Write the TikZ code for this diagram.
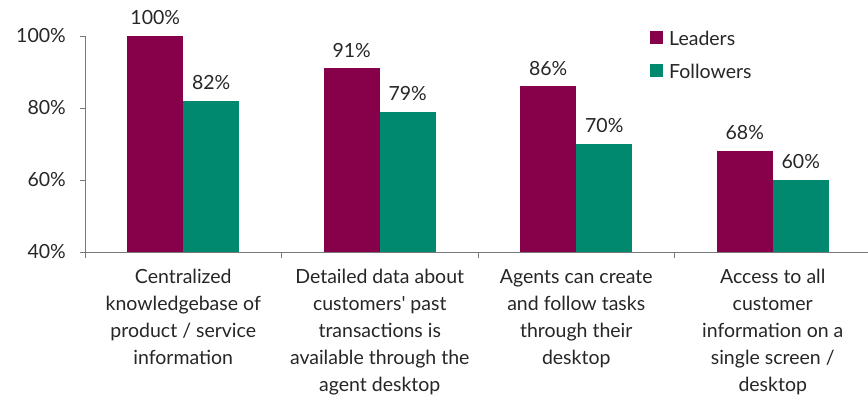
\documentclass[tikz,border=0pt]{standalone}
\usepackage{fontspec}
\setmainfont{Lato}
\definecolor{lead}{RGB}{134,0,74}
\definecolor{foll}{RGB}{0,137,111}
\definecolor{axisc}{RGB}{120,120,120}
\begin{document}
\begin{tikzpicture}[x=1pt,y=-1pt,
  lbl/.style={font=\fontsize{19.5}{27}\selectfont, text=black!85, inner sep=0pt},
  cat/.style={lbl, align=center, anchor=north},
  val/.style={lbl, anchor=south},
  barL/.style={fill=lead, draw=none},
  barF/.style={fill=foll, draw=none},
  ax/.style={draw=axisc, line width=0.8pt}]
\useasboundingbox (0,0) rectangle (868,402);
% bars
\foreach \i/\l/\f in {0/100/82,1/91/79,2/86/70,3/68/60}{
  \pgfmathsetmacro{\xc}{85+98.25+196.5*\i}
  \pgfmathsetmacro{\yl}{252-3.6*(\l-40)}
  \pgfmathsetmacro{\yf}{252-3.6*(\f-40)}
  \fill[barL] (\xc-56,\yl) rectangle (\xc,252);
  \fill[barF] (\xc,\yf) rectangle (\xc+56,252);
  \node[val] (vl\i) at (\xc-28,\yl-11) {\l\%};
  \node[val] (vf\i) at (\xc+28,\yf-11) {\f\%};
}
% axes
\draw[ax] (85,36) -- (85,252) -- (868,252);
\foreach \y/\t in {36/100,108/80,180/60,252/40}{
  \draw[ax] (80,\y) -- (85,\y);
  \node[lbl, anchor=east] (yt\t) at (66,\y) {\t\%};
}
\foreach \i in {0,1,2,3,4}{
  \draw[ax] (85+196.5*\i,252) -- (85+196.5*\i,258);
}
% category labels
\node[cat] (c0) at (183.25,269) {Centralized\\knowledgebase of\\product / service\\information};
\node[cat] (c1) at (379.75,269) {Detailed data about\\customers\textquotesingle{} past\\transactions is\\available through the\\agent desktop};
\node[cat] (c2) at (576.25,269) {Agents can create\\and follow tasks\\through their\\desktop};
\node[cat] (c3) at (772.75,269) {Access to all\\customer\\information on a\\single screen /\\desktop};
% legend
\fill[lead] (650,31) rectangle (663,44);
\fill[foll] (650,64) rectangle (663,77);
\node[lbl, anchor=west] (legL) at (669,38) {Leaders};
\node[lbl, anchor=west] (legF) at (669,71) {Followers};
\end{tikzpicture}
\end{document}
